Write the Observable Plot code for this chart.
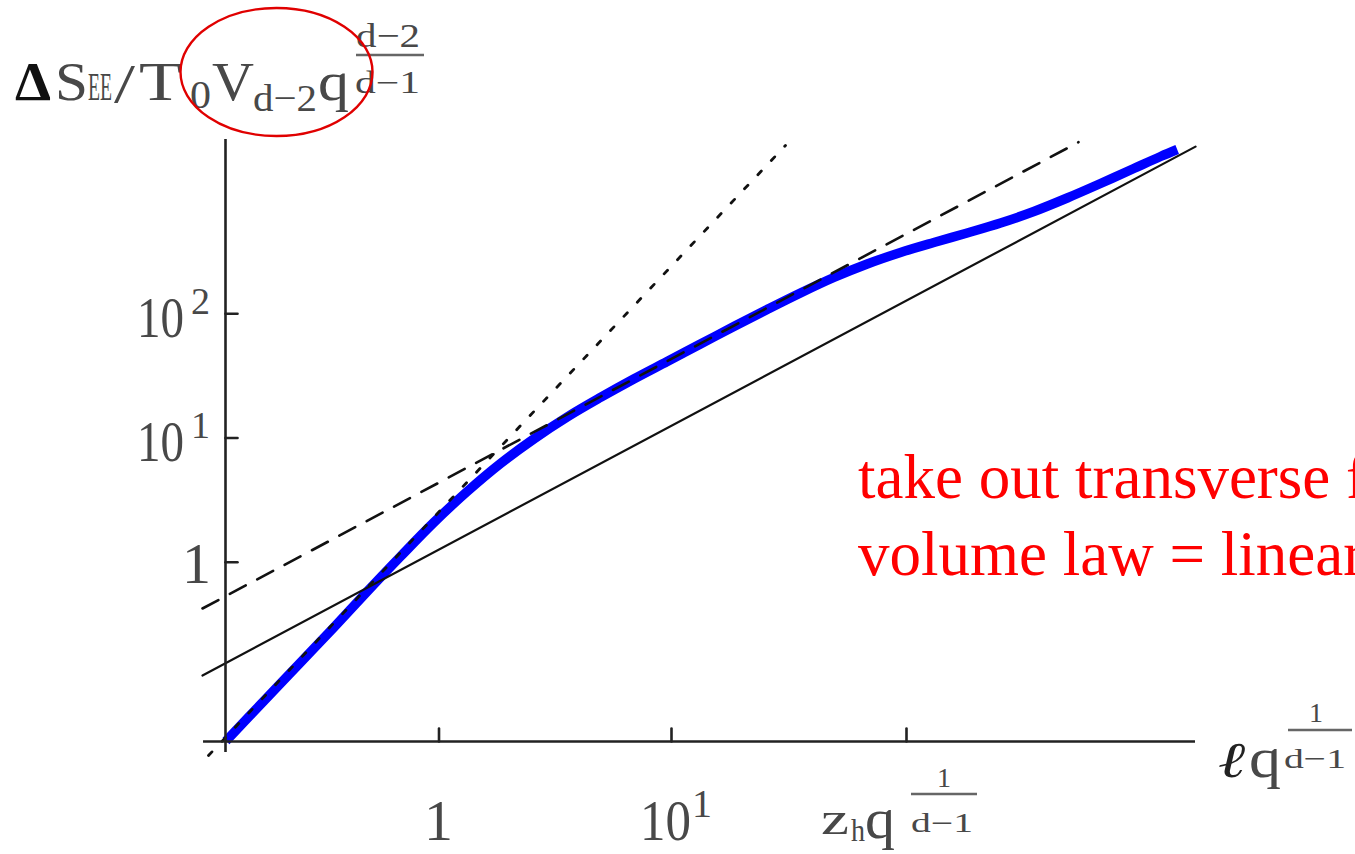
<!DOCTYPE html>
<html><head><meta charset="utf-8">
<script src="https://cdn.jsdelivr.net/npm/d3@7"></script>
<script src="https://cdn.jsdelivr.net/npm/@observablehq/plot@0.6"></script>
<style>
html,body{margin:0;padding:0;background:#fff;overflow:hidden;width:1355px;height:854px;}
#chart svg{display:block;}
</style></head><body><div id="chart"></div>
<script>
// ---- data ----
const curveX = [0.1213, 0.1824, 0.2537, 0.3528, 0.4912, 0.6830, 0.9497, 1.322, 1.839, 2.557,
  3.560, 4.950, 6.882, 9.583, 13.32, 18.54, 25.79, 35.87, 49.90, 69.46,
  96.58, 134.4, 187.0, 260.1, 361.6, 503.3, 700.1, 973.7, 1268.6, 1496.5];
const curveY = [0.03634, 0.08140, 0.1557, 0.2980, 0.5808, 1.1114, 2.087, 3.709, 6.233, 9.815,
  14.76, 21.19, 29.85, 41.30, 57.12, 79.02, 108.3, 147.1, 196.0, 251.8,
  311.6, 375.1, 447.4, 538.4, 666.4, 855.8, 1119.6, 1479, 1847, 2103];
const volumeLawX = [0.0961, 1794];
const volumeLawY = [0.1224, 2219];
const dashedX = [0.0961, 563.0];
const dashedY = [0.4239, 2408];
const dottedX = [0.1020, 30.92];
const dottedY = [0.02777, 2265];
const xTicks = [1, 10, 102.5];
const yTicks = [1, 10, 100];
const yTickExponents = ["0", "1", "2"];
const xDomain = [0.1207, 1793.7];
const yDomain = [0.036003, 2531.6];
const originX = [0.1207];
const originY = [0.036003];
const xAxisSpan = [0.0971, 1793.7];
const yAxisSpan = [0.02937, 2531.6];
const noteLines = ["take out transverse factor", "volume law = linear"];

const curve = curveX.map((x, i) => ({x, y: curveY[i]}));
const volumeLaw = volumeLawX.map((x, i) => ({x, y: volumeLawY[i]}));
const dashed = dashedX.map((x, i) => ({x, y: dashedY[i]}));
const dotted = dottedX.map((x, i) => ({x, y: dottedY[i]}));

const tickShape = {draw(context, l) { context.moveTo(0, 0); context.lineTo(0, -l); }};
const ink = "#222";

const chart = Plot.plot({
  width: 1355, height: 854,
  marginLeft: 225, marginRight: 160, marginTop: 139, marginBottom: 113,
  x: {type: "log", domain: xDomain, axis: null},
  y: {type: "log", domain: yDomain, axis: null},
  style: {background: "white", overflow: "visible"},
  marks: [
    Plot.line(curve, {x: "x", y: "y", stroke: "#0000ff", strokeWidth: 9.5, curve: "catmull-rom", strokeLinecap: "butt"}),
    Plot.line(volumeLaw, {x: "x", y: "y", stroke: "#111", strokeWidth: 2.2}),
    Plot.line(dashed, {x: "x", y: "y", stroke: "#111", strokeWidth: 2.6, strokeDasharray: "18,13"}),
    Plot.line(dotted, {x: "x", y: "y", stroke: "#111", strokeWidth: 2.8, strokeDasharray: "5,14.5"}),
    Plot.ruleY(originY, {x1: xAxisSpan[0], x2: xAxisSpan[1], stroke: ink, strokeWidth: 2.6}),
    Plot.ruleX(originX, {y1: yAxisSpan[0], y2: yAxisSpan[1], stroke: ink, strokeWidth: 2.6}),
    Plot.vector(xTicks, {x: d => d, y: originY[0], length: 13, rotate: 0, anchor: "start", shape: tickShape, stroke: ink, strokeWidth: 2.6}),
    Plot.vector(yTicks, {x: originX[0], y: d => d, length: 12, rotate: 90, anchor: "start", shape: tickShape, stroke: ink, strokeWidth: 2.6})
  ]
});
document.getElementById("chart").appendChild(chart);

// ---- labels (real text) ----
const sx = chart.scale("x"), sy = chart.scale("y");
const svg = d3.select(chart);
const g = svg.append("g")
  .attr("font-family", "'Liberation Serif', 'Times New Roman', serif")
  .attr("text-anchor", "start");
function t(str, x, y, size, o = {}) {
  const e = g.append("text").attr("x", x).attr("y", y).attr("font-size", size)
    .attr("fill", o.fill || "#484848").attr("text-anchor", o.anchor || "start").text(str);
  if (o.w) e.attr("textLength", o.w).attr("lengthAdjust", "spacingAndGlyphs");
  if (o.weight) e.attr("font-weight", o.weight);
  if (o.style) e.attr("font-style", o.style);
  if (o.family) e.attr("font-family", o.family);
  return e;
}
function bar(x1, x2, y) {
  g.append("line").attr("x1", x1).attr("x2", x2).attr("y1", y).attr("y2", y)
    .attr("stroke", "#666").attr("stroke-width", 2.5);
}

// y tick labels
const ax = sx.apply(originX[0]);
yTicks.forEach((v, i) => {
  const py = sy.apply(v);
  if (yTickExponents[i] === "0") {
    t("1", ax - 14, py + 21, 58, {anchor: "end"});
  } else {
    t("10", ax - 41, py + 24, 58, {anchor: "end", w: 47});
    t(yTickExponents[i], ax - 34, py + 1, 38);
  }
});

// x tick labels
{
  const p1 = sx.apply(xTicks[0]);
  t("1", p1, 840, 58, {anchor: "middle"});
  const p2 = sx.apply(xTicks[1]);
  t("10", p2 + 20, 840, 58, {anchor: "end", w: 51});
  t("1", p2 + 21, 817, 40);
  const p3 = sx.apply(xTicks[2]);
  t("z", p3 - 85, 834, 46, {w: 28});
  t("h", p3 - 55, 841, 32, {w: 14});
  t("q", p3 - 41, 838, 58, {w: 30});
  bar(p3 + 5, p3 + 71, 794);
  t("1", p3 + 38, 787, 28, {anchor: "middle"});
  t("d\u22121", p3 + 36, 832, 27, {anchor: "middle", w: 62});
}

// x axis label
t("\u2113", 1219, 777, 50, {family: "'DejaVu Serif', serif", style: "italic", weight: "bold", fill: "#222", w: 28});
t("q", 1249, 777, 56, {w: 32});
bar(1288, 1352, 730);
t("1", 1316, 722, 28, {anchor: "middle"});
t("d\u22121", 1315, 768, 28, {anchor: "middle", w: 62});

// y axis label
t("\u0394", 15, 100, 54, {weight: "bold", fill: "#111", w: 36});
t("S", 55, 100, 55, {w: 33});
t("EE", 88, 100, 40, {w: 24});
t("/", 114, 102, 55, {w: 21});
t("T", 139, 100, 55, {w: 43});
t("0", 190, 108, 40, {w: 21});
t("V", 212, 100, 55, {w: 42});
t("d\u22122", 253, 111, 38, {w: 64});
t("q", 318, 100, 55, {w: 31});
t("d\u22122", 356, 47, 34, {w: 64});
bar(356, 424, 55);
t("d\u22121", 355, 93, 31, {w: 65});

// red annotation
g.append("ellipse").attr("cx", 276.5).attr("cy", 72).attr("rx", 96).attr("ry", 64)
  .attr("fill", "none").attr("stroke", "#e00000").attr("stroke-width", 2.4);
noteLines.forEach((s, i) => t(s, 858, 498 + i * 77, 63, {fill: "#ff0000"}));
</script></body></html>
